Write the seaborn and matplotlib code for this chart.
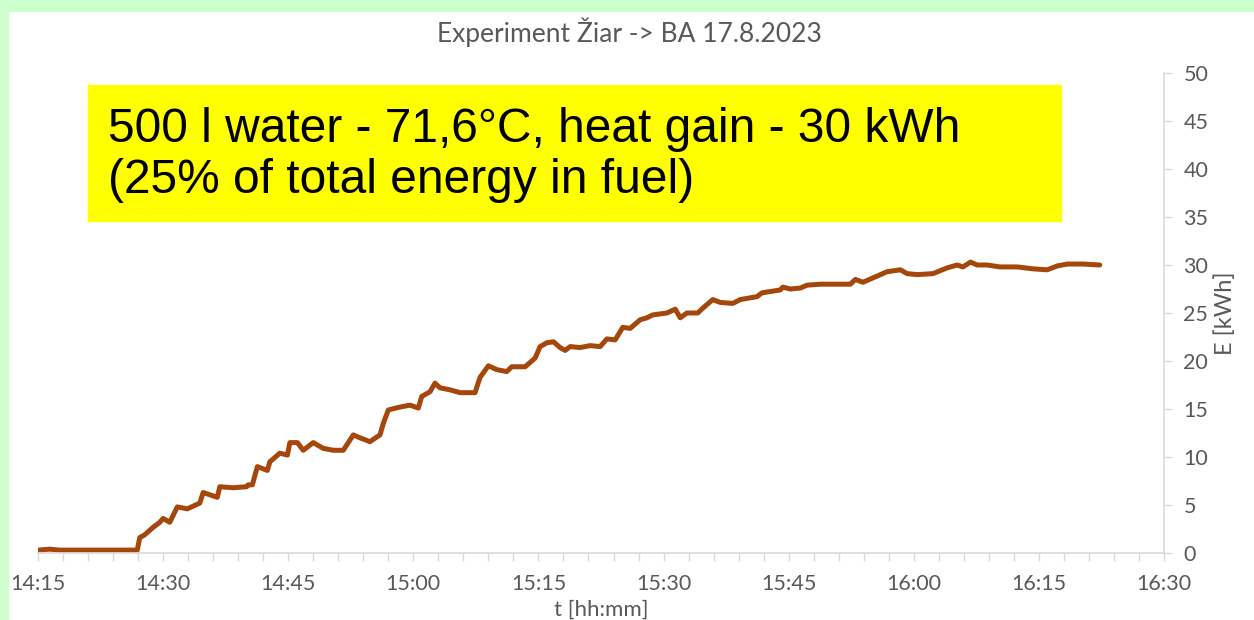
import numpy as np
import pandas as pd
import matplotlib
matplotlib.use('Agg')
import matplotlib.pyplot as plt
import seaborn as sns
from matplotlib.ticker import MultipleLocator, FuncFormatter
from matplotlib.patches import Rectangle

# Minutes elapsed since 14:15 and accumulated heat gain (kWh)
minuty = [0.0, 1.4, 2.6, 11.9, 12.2, 12.8, 13.7, 14.6, 15.0, 15.8, 16.7, 17.9, 19.4, 19.8,
          21.5, 21.8, 23.4, 25.0, 25.2, 25.7, 26.3, 27.5, 27.8, 29.0, 29.9, 30.2, 31.1,
          31.8, 33.0, 34.2, 35.4, 36.6, 37.8, 38.6, 39.8, 41.0, 41.4, 42.0, 43.4, 44.6,
          45.6, 46.0, 47.0, 47.6, 48.2, 49.4, 50.6, 52.4, 53.0, 54.0, 55.0, 56.2, 56.8,
          58.4, 59.6, 60.2, 61.0, 61.8, 62.6, 63.2, 63.8, 65.0, 66.2, 67.4, 68.2, 69.2,
          70.1, 71.0, 72.2, 73.0, 73.7, 75.4, 76.4, 77.0, 77.8, 79.1, 79.7, 80.9, 81.8,
          83.3, 84.2, 86.2, 86.8, 89.0, 89.3, 90.2, 91.4, 92.2, 93.8, 97.4, 98.0, 98.9,
          101.8, 103.4, 104.2, 105.4, 107.3, 109.0, 110.2, 110.9, 111.8, 112.6, 113.8,
          115.3, 117.4, 119.3, 121.0, 122.2, 123.4, 125.3, 127.3]
energia = [0.3, 0.4, 0.3, 0.3, 1.6, 1.9, 2.6, 3.2, 3.6, 3.2, 4.8, 4.6, 5.2, 6.3,
           5.8, 6.9, 6.8, 6.9, 7.1, 7.1, 9.0, 8.6, 9.5, 10.4, 10.2, 11.5, 11.5,
           10.7, 11.5, 10.9, 10.7, 10.7, 12.3, 12.0, 11.6, 12.3, 13.5, 14.9, 15.2, 15.4,
           15.1, 16.3, 16.8, 17.7, 17.2, 17.0, 16.7, 16.7, 18.3, 19.5, 19.1, 18.9, 19.4,
           19.4, 20.3, 21.5, 21.9, 22.0, 21.4, 21.1, 21.5, 21.4, 21.6, 21.5, 22.3, 22.2,
           23.5, 23.4, 24.3, 24.5, 24.8, 25.0, 25.4, 24.5, 25.0, 25.0, 25.5, 26.4, 26.1,
           26.0, 26.4, 26.7, 27.1, 27.4, 27.7, 27.5, 27.6, 27.9, 28.0, 28.0, 28.5, 28.2,
           29.3, 29.5, 29.1, 29.0, 29.1, 29.7, 30.0, 29.8, 30.3, 30.0, 30.0,
           29.8, 29.8, 29.6, 29.5, 29.9, 30.1, 30.1, 30.0]

titulo = 'Experiment Žiar -> BA 17.8.2023'
nota = '500 l water - 71,6°C, heat gain - 30 kWh\n(25% of total energy in fuel)'
inicio_h, inicio_m = 14, 15

sns.set_theme(style='white')
plt.rcParams['font.family'] = ['Lato', 'DejaVu Sans']

gris = '#595959'
df = pd.DataFrame({'t': minuty, 'E': energia})

fig = plt.figure(figsize=(12.54, 6.2), dpi=100)
fig.patches.append(Rectangle((0, 0), 8 / 1254, 1, transform=fig.transFigure,
                             color='#CCFFCC', zorder=0))
fig.patches.append(Rectangle((0, 1 - 11 / 620), 1, 11 / 620, transform=fig.transFigure,
                             color='#CCFFCC', zorder=0))

ax = fig.add_axes([38 / 1254, 67 / 620, (1164 - 38) / 1254, (553 - 73) / 620])
sns.lineplot(data=df, x='t', y='E', ax=ax, color='#A5460A', linewidth=3.6)

ax.set_xlim(0, 135)
ax.set_ylim(0, 50)
ax.xaxis.set_major_locator(MultipleLocator(15))
ax.xaxis.set_minor_locator(MultipleLocator(3))
ax.yaxis.set_major_locator(MultipleLocator(5))


def fmt_hora(x, pos):
    total = inicio_h * 60 + inicio_m + int(round(x))
    return f'{total // 60}:{total % 60:02d}'


ax.xaxis.set_major_formatter(FuncFormatter(fmt_hora))
ax.yaxis.tick_right()
ax.yaxis.set_label_position('right')

for lado in ['top', 'left']:
    ax.spines[lado].set_visible(False)
ax.spines['bottom'].set_color('#D9D9D9')
ax.spines['right'].set_color('#D9D9D9')
ax.spines['bottom'].set_linewidth(1.2)
ax.spines['right'].set_linewidth(1.2)

ax.tick_params(axis='x', which='both', bottom=True, direction='out', length=6,
               width=1, color='#D9D9D9', labelsize=15.5, labelcolor=gris, pad=9)
ax.tick_params(axis='y', which='major', right=True, direction='out', length=6,
               width=1, color='#D9D9D9', labelsize=15.5, labelcolor=gris, pad=8)

ax.set_xlabel('t [hh:mm]', fontsize=16, color=gris, labelpad=4)
ax.set_ylabel('E [kWh]', fontsize=17, color=gris, labelpad=4)

fig.text(629 / 1254, 1 - 32 / 620, titulo, ha='center', va='center', fontsize=19, color=gris)

fig.patches.append(Rectangle((88 / 1254, 1 - 221 / 620), (1061 - 88) / 1254, (221 - 85) / 620,
                             transform=fig.transFigure, color='#FFFF00', zorder=1))
fig.text(108 / 1254, 1 - 155 / 620, nota, ha='left', va='center', fontsize=34.5,
         color='black', family=['Liberation Sans', 'DejaVu Sans'], linespacing=1.15)

fig.savefig('out.png', dpi=100, facecolor='white')
plt.close()
